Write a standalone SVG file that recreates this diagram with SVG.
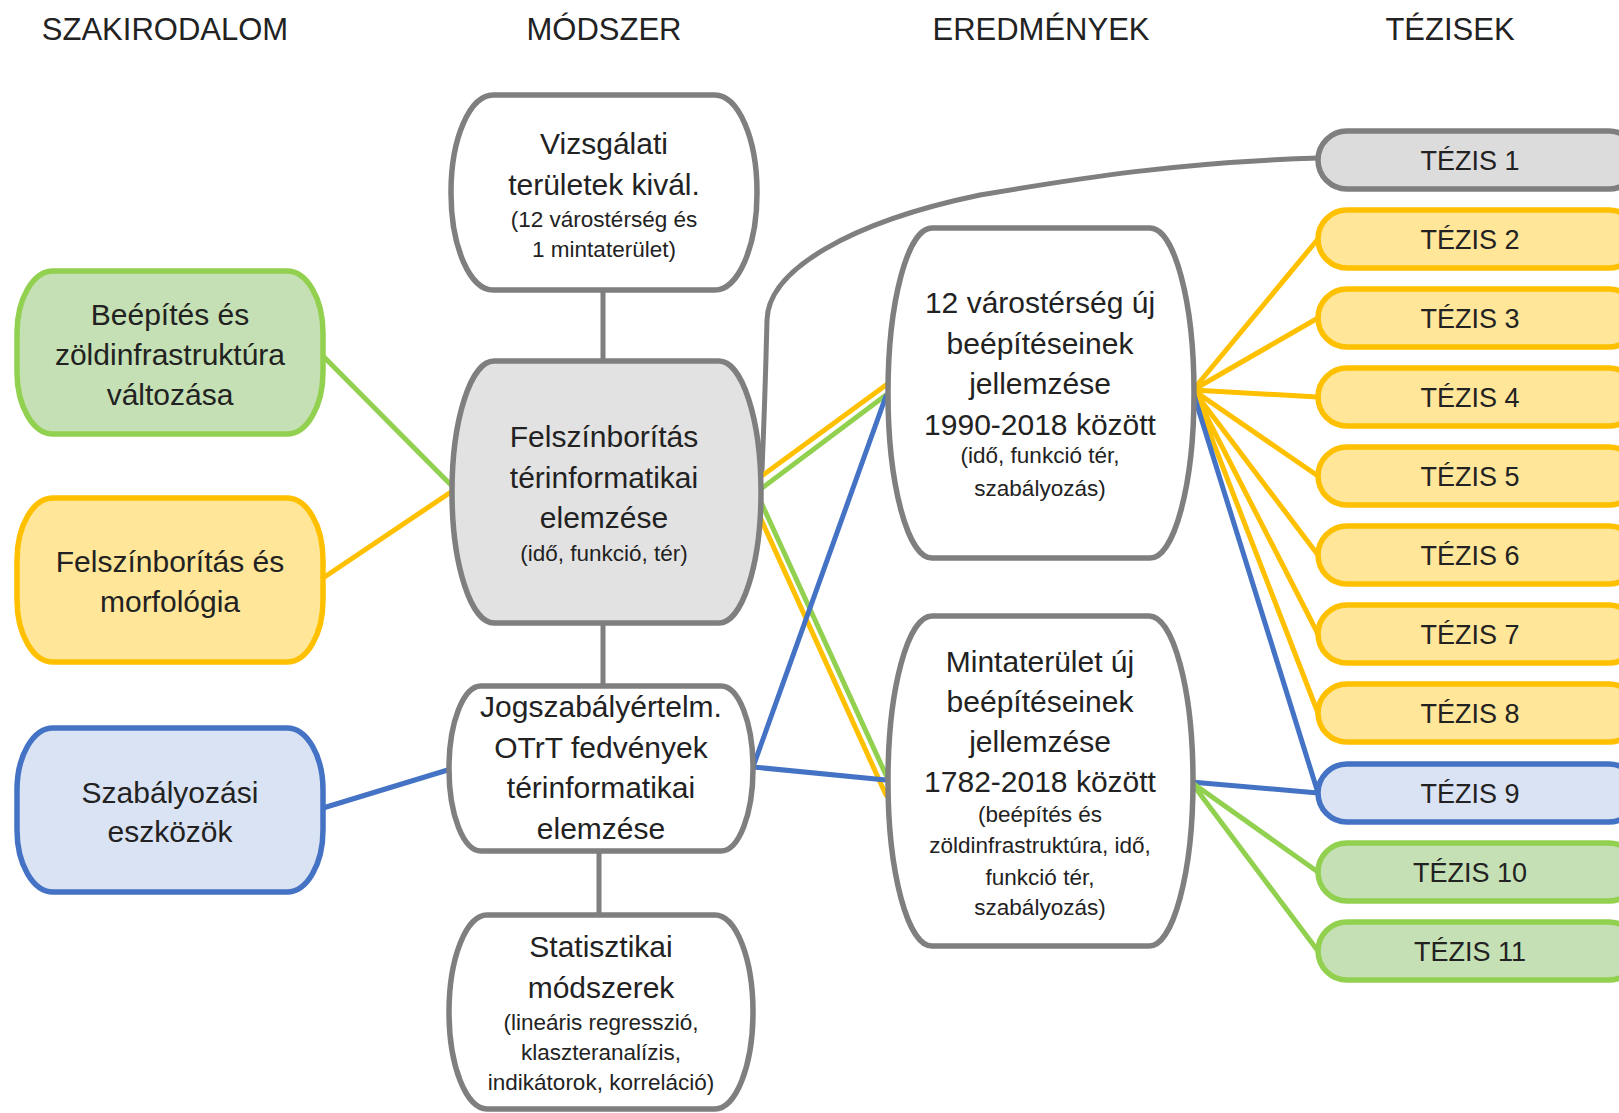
<svg xmlns="http://www.w3.org/2000/svg" width="1619" height="1113" viewBox="0 0 1619 1113">
<style>
text{font-family:"Liberation Sans",Arial,sans-serif;fill:#222;text-anchor:middle}
.h{font-size:31px}
.b{font-size:30px}
.s{font-size:22.5px}
.t{font-size:27px}
.n{stroke-width:5.5}
.w{fill:#fff;stroke:#7f7f7f}
.g{fill:#e2e2e2;stroke:#7f7f7f}
.gr{fill:#c5e0b4;stroke:#92d050}
.ye{fill:#ffe699;stroke:#ffc000}
.bl{fill:#dae3f3;stroke:#4472c4}
.c{fill:none;stroke-width:5;stroke-linecap:round}
.cg{stroke:#7f7f7f}
.cgr{stroke:#92d050}
.cye{stroke:#ffc000}
.cbl{stroke:#4472c4}
</style>
<rect width="1619" height="1113" fill="#fff"/>
<g id="headers">
<text class="h" x="165" y="40">SZAKIRODALOM</text>
<text class="h" x="604" y="40">MÓDSZER</text>
<text class="h" x="1041" y="40">EREDMÉNYEK</text>
<text class="h" x="1450" y="40">TÉZISEK</text>
</g>
<g id="connectors">
<path class="c cg" d="M603 290V361M603 623V686M599 851V915"/>
<path class="c cg" d="M762 470C765 400 766 360 767 320C768 270 850 222 980 195C1080 178 1180 162 1320 158"/>
<path class="c cgr" d="M323 356L451 485"/>
<path class="c cye" d="M323 578L451 492"/>
<path class="c cbl" d="M323 808L451 769"/>
<path class="c cye" d="M763 475L886 385M760 517L886 795"/>
<path class="c cgr" d="M762 488L886 395M760 500L886 775"/>
<path class="c cbl" d="M753 767L886 396M753 767L886 780"/>
<path class="c cye" d="M1193 390L1318 239M1193 390L1318 318M1193 390L1318 397M1193 390L1318 476M1193 390L1318 555M1193 390L1318 634M1193 390L1318 713"/>
<path class="c cbl" d="M1193 392L1318 793M1191 782L1318 793"/>
<path class="c cgr" d="M1191 782L1318 872M1191 782L1318 951"/>
</g>
<g id="lit-green">
<rect class="n gr" x="17" y="271" width="306" height="163" rx="36" ry="62"/>
<text class="b" x="170" y="325">Beépítés és</text>
<text class="b" x="170" y="365">zöldinfrastruktúra</text>
<text class="b" x="170" y="405">változása</text>
</g>
<g id="lit-yellow">
<rect class="n ye" x="17" y="498" width="306" height="164" rx="36" ry="62"/>
<text class="b" x="170" y="572">Felszínborítás és</text>
<text class="b" x="170" y="612">morfológia</text>
</g>
<g id="lit-blue">
<rect class="n bl" x="17" y="728" width="306" height="164" rx="36" ry="62"/>
<text class="b" x="170" y="803">Szabályozási</text>
<text class="b" x="170" y="842">eszközök</text>
</g>
<g id="m-vizsgalati">
<rect class="n w" x="451" y="95" width="306" height="195" rx="42" ry="97"/>
<text class="b" x="604" y="154">Vizsgálati</text>
<text class="b" x="604" y="195">területek kivál.</text>
<text class="s" x="604" y="227">(12 várostérség és</text>
<text class="s" x="604" y="257">1 mintaterület)</text>
</g>
<g id="m-felszin">
<rect class="n g" x="452" y="361" width="309" height="262" rx="42" ry="131"/>
<text class="b" x="604" y="447">Felszínborítás</text>
<text class="b" x="604" y="488">térinformatikai</text>
<text class="b" x="604" y="528">elemzése</text>
<text class="s" x="604" y="561">(idő, funkció, tér)</text>
</g>
<g id="m-jog">
<rect class="n w" x="449" y="686" width="304" height="165" rx="32" ry="82"/>
<text class="b" x="601" y="717">Jogszabályértelm.</text>
<text class="b" x="601" y="758">OTrT fedvények</text>
<text class="b" x="601" y="798">térinformatikai</text>
<text class="b" x="601" y="839">elemzése</text>
</g>
<g id="m-stat">
<rect class="n w" x="449" y="915" width="304" height="194" rx="38" ry="97"/>
<text class="b" x="601" y="957">Statisztikai</text>
<text class="b" x="601" y="998">módszerek</text>
<text class="s" x="601" y="1030">(lineáris regresszió,</text>
<text class="s" x="601" y="1060">klaszteranalízis,</text>
<text class="s" x="601" y="1090">indikátorok, korreláció)</text>
</g>
<g id="e-varos">
<rect class="n w" x="888" y="228" width="306" height="330" rx="44" ry="165"/>
<text class="b" x="1040" y="313">12 várostérség új</text>
<text class="b" x="1040" y="354">beépítéseinek</text>
<text class="b" x="1040" y="394">jellemzése</text>
<text class="b" x="1040" y="435">1990-2018 között</text>
<text class="s" x="1040" y="463">(idő, funkció tér,</text>
<text class="s" x="1040" y="496">szabályozás)</text>
</g>
<g id="e-minta">
<rect class="n w" x="888" y="616" width="305" height="330" rx="44" ry="165"/>
<text class="b" x="1040" y="672">Mintaterület új</text>
<text class="b" x="1040" y="712">beépítéseinek</text>
<text class="b" x="1040" y="752">jellemzése</text>
<text class="b" x="1040" y="792">1782-2018 között</text>
<text class="s" x="1040" y="822">(beépítés és</text>
<text class="s" x="1040" y="853">zöldinfrastruktúra, idő,</text>
<text class="s" x="1040" y="885">funkció tér,</text>
<text class="s" x="1040" y="915">szabályozás)</text>
</g>
<g id="t1"><rect class="n g" x="1318" y="131" width="320" height="58" rx="29" style="fill:#dcdcdc"/><text class="t" x="1470" y="170">TÉZIS 1</text></g>
<g id="t2"><rect class="n ye" x="1318" y="210" width="320" height="58" rx="29"/><text class="t" x="1470" y="249">TÉZIS 2</text></g>
<g id="t3"><rect class="n ye" x="1318" y="289" width="320" height="58" rx="29"/><text class="t" x="1470" y="328">TÉZIS 3</text></g>
<g id="t4"><rect class="n ye" x="1318" y="368" width="320" height="58" rx="29"/><text class="t" x="1470" y="407">TÉZIS 4</text></g>
<g id="t5"><rect class="n ye" x="1318" y="447" width="320" height="58" rx="29"/><text class="t" x="1470" y="486">TÉZIS 5</text></g>
<g id="t6"><rect class="n ye" x="1318" y="526" width="320" height="58" rx="29"/><text class="t" x="1470" y="565">TÉZIS 6</text></g>
<g id="t7"><rect class="n ye" x="1318" y="605" width="320" height="58" rx="29"/><text class="t" x="1470" y="644">TÉZIS 7</text></g>
<g id="t8"><rect class="n ye" x="1318" y="684" width="320" height="58" rx="29"/><text class="t" x="1470" y="723">TÉZIS 8</text></g>
<g id="t9"><rect class="n bl" x="1318" y="764" width="320" height="58" rx="29"/><text class="t" x="1470" y="803">TÉZIS 9</text></g>
<g id="t10"><rect class="n gr" x="1318" y="843" width="320" height="58" rx="29"/><text class="t" x="1470" y="882">TÉZIS 10</text></g>
<g id="t11"><rect class="n gr" x="1318" y="922" width="320" height="58" rx="29"/><text class="t" x="1470" y="961">TÉZIS 11</text></g>
</svg>
